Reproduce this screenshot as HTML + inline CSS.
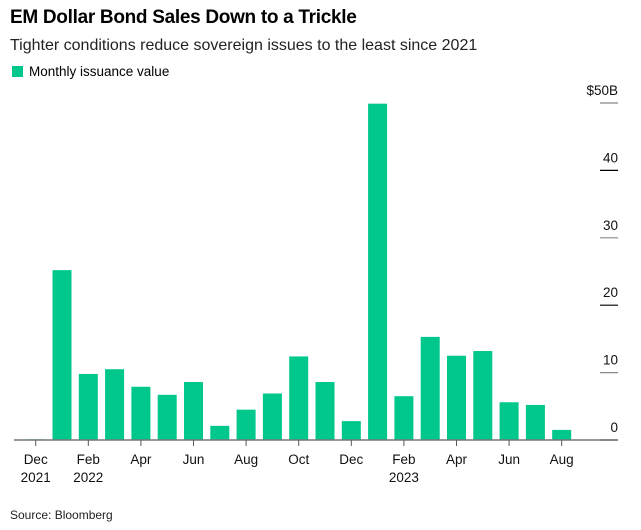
<!DOCTYPE html>
<html><head><meta charset="utf-8"><style>
body{margin:0;background:#fff;font-family:"Liberation Sans",sans-serif;}
#wrap{position:relative;width:641px;height:530px;overflow:hidden;}
.t{position:absolute;white-space:nowrap;color:#000;}
</style></head><body>
<div id="wrap">
<div class="t" style="left:10px;top:7px;font-size:19px;font-weight:bold;letter-spacing:-0.3px">EM Dollar Bond Sales Down to a Trickle</div>
<div class="t" style="left:10px;top:37px;font-size:16px;color:#222">Tighter conditions reduce sovereign issues to the least since 2021</div>
<div class="t" style="left:12px;top:64px;font-size:13.5px"><span style="display:inline-block;width:11px;height:11px;background:#00c78c;margin-right:6px;vertical-align:-1px"></span>Monthly issuance value</div>
<svg id="chart" width="641" height="530" style="position:absolute;left:0;top:0"></svg>
<div class="t" style="left:10px;top:508px;font-size:12px;color:#222">Source: Bloomberg</div>
</div>
<script>
const categories=["Dec 2021","Jan 2022","Feb 2022","Mar 2022","Apr 2022","May 2022","Jun 2022","Jul 2022","Aug 2022","Sep 2022","Oct 2022","Nov 2022","Dec 2022","Jan 2023","Feb 2023","Mar 2023","Apr 2023","May 2023","Jun 2023","Jul 2023","Aug 2023"];
const values=[0.1,25.2,9.8,10.5,7.9,6.7,8.6,2.1,4.5,6.9,12.4,8.6,2.8,49.9,6.5,15.3,12.5,13.2,5.6,5.2,1.5];
const yTicks=[0,10,20,30,40,50];
const yTickLabels=["0","10","20","30","40","$50B"];
const xLabelIdx=[0,2,4,6,8,10,12,14,16,18,20];
const xLabels=["Dec","Feb","Apr","Jun","Aug","Oct","Dec","Feb","Apr","Jun","Aug"];
const xLabels2=["2021","2022","","","","","","2023","","",""];
const svg=document.getElementById('chart');
const NS='http://www.w3.org/2000/svg';
const x=i=>35.7+i*26.3;
const y=v=>440-v*6.74;
function mk(tag,a){const e=document.createElementNS(NS,tag);for(const k in a)e.setAttribute(k,a[k]);svg.appendChild(e);return e;}
yTicks.forEach((t,i)=>{
  const l=mk('line',{x1:600,x2:618,y1:y(t),y2:y(t),stroke:i%2?'#888':'#000','stroke-width':1.2});
  
  
  const tx=mk('text',{x:618,y:y(t)-8,'text-anchor':'end','font-size':13.5,'font-family':'Liberation Sans, sans-serif',fill:'#111'});
  tx.textContent=yTickLabels[i];
  
  
});
values.forEach((v,i)=>{
  const r=mk('rect',{x:x(i)-9.5,y:y(v),width:19,height:440-y(v),fill:'#00c78c'});
  
  
});
const ax=mk('line',{x1:14,x2:618,y1:440,y2:440,stroke:'#777','stroke-width':1.5});


xLabelIdx.forEach((idx,k)=>{
  const tk=mk('line',{x1:x(idx),x2:x(idx),y1:440,y2:446,stroke:'#555','stroke-width':1});
  
  
  const t=mk('text',{x:x(idx),y:464,'text-anchor':'middle','font-size':13.5,'font-family':'Liberation Sans, sans-serif',fill:'#111'});
  t.textContent=xLabels[k];
  
  
  if(xLabels2[k]){
    const t2=mk('text',{x:x(idx),y:482,'text-anchor':'middle','font-size':13.5,'font-family':'Liberation Sans, sans-serif',fill:'#111'});
    t2.textContent=xLabels2[k];
    
    
  }
});
</script>
</body></html>
